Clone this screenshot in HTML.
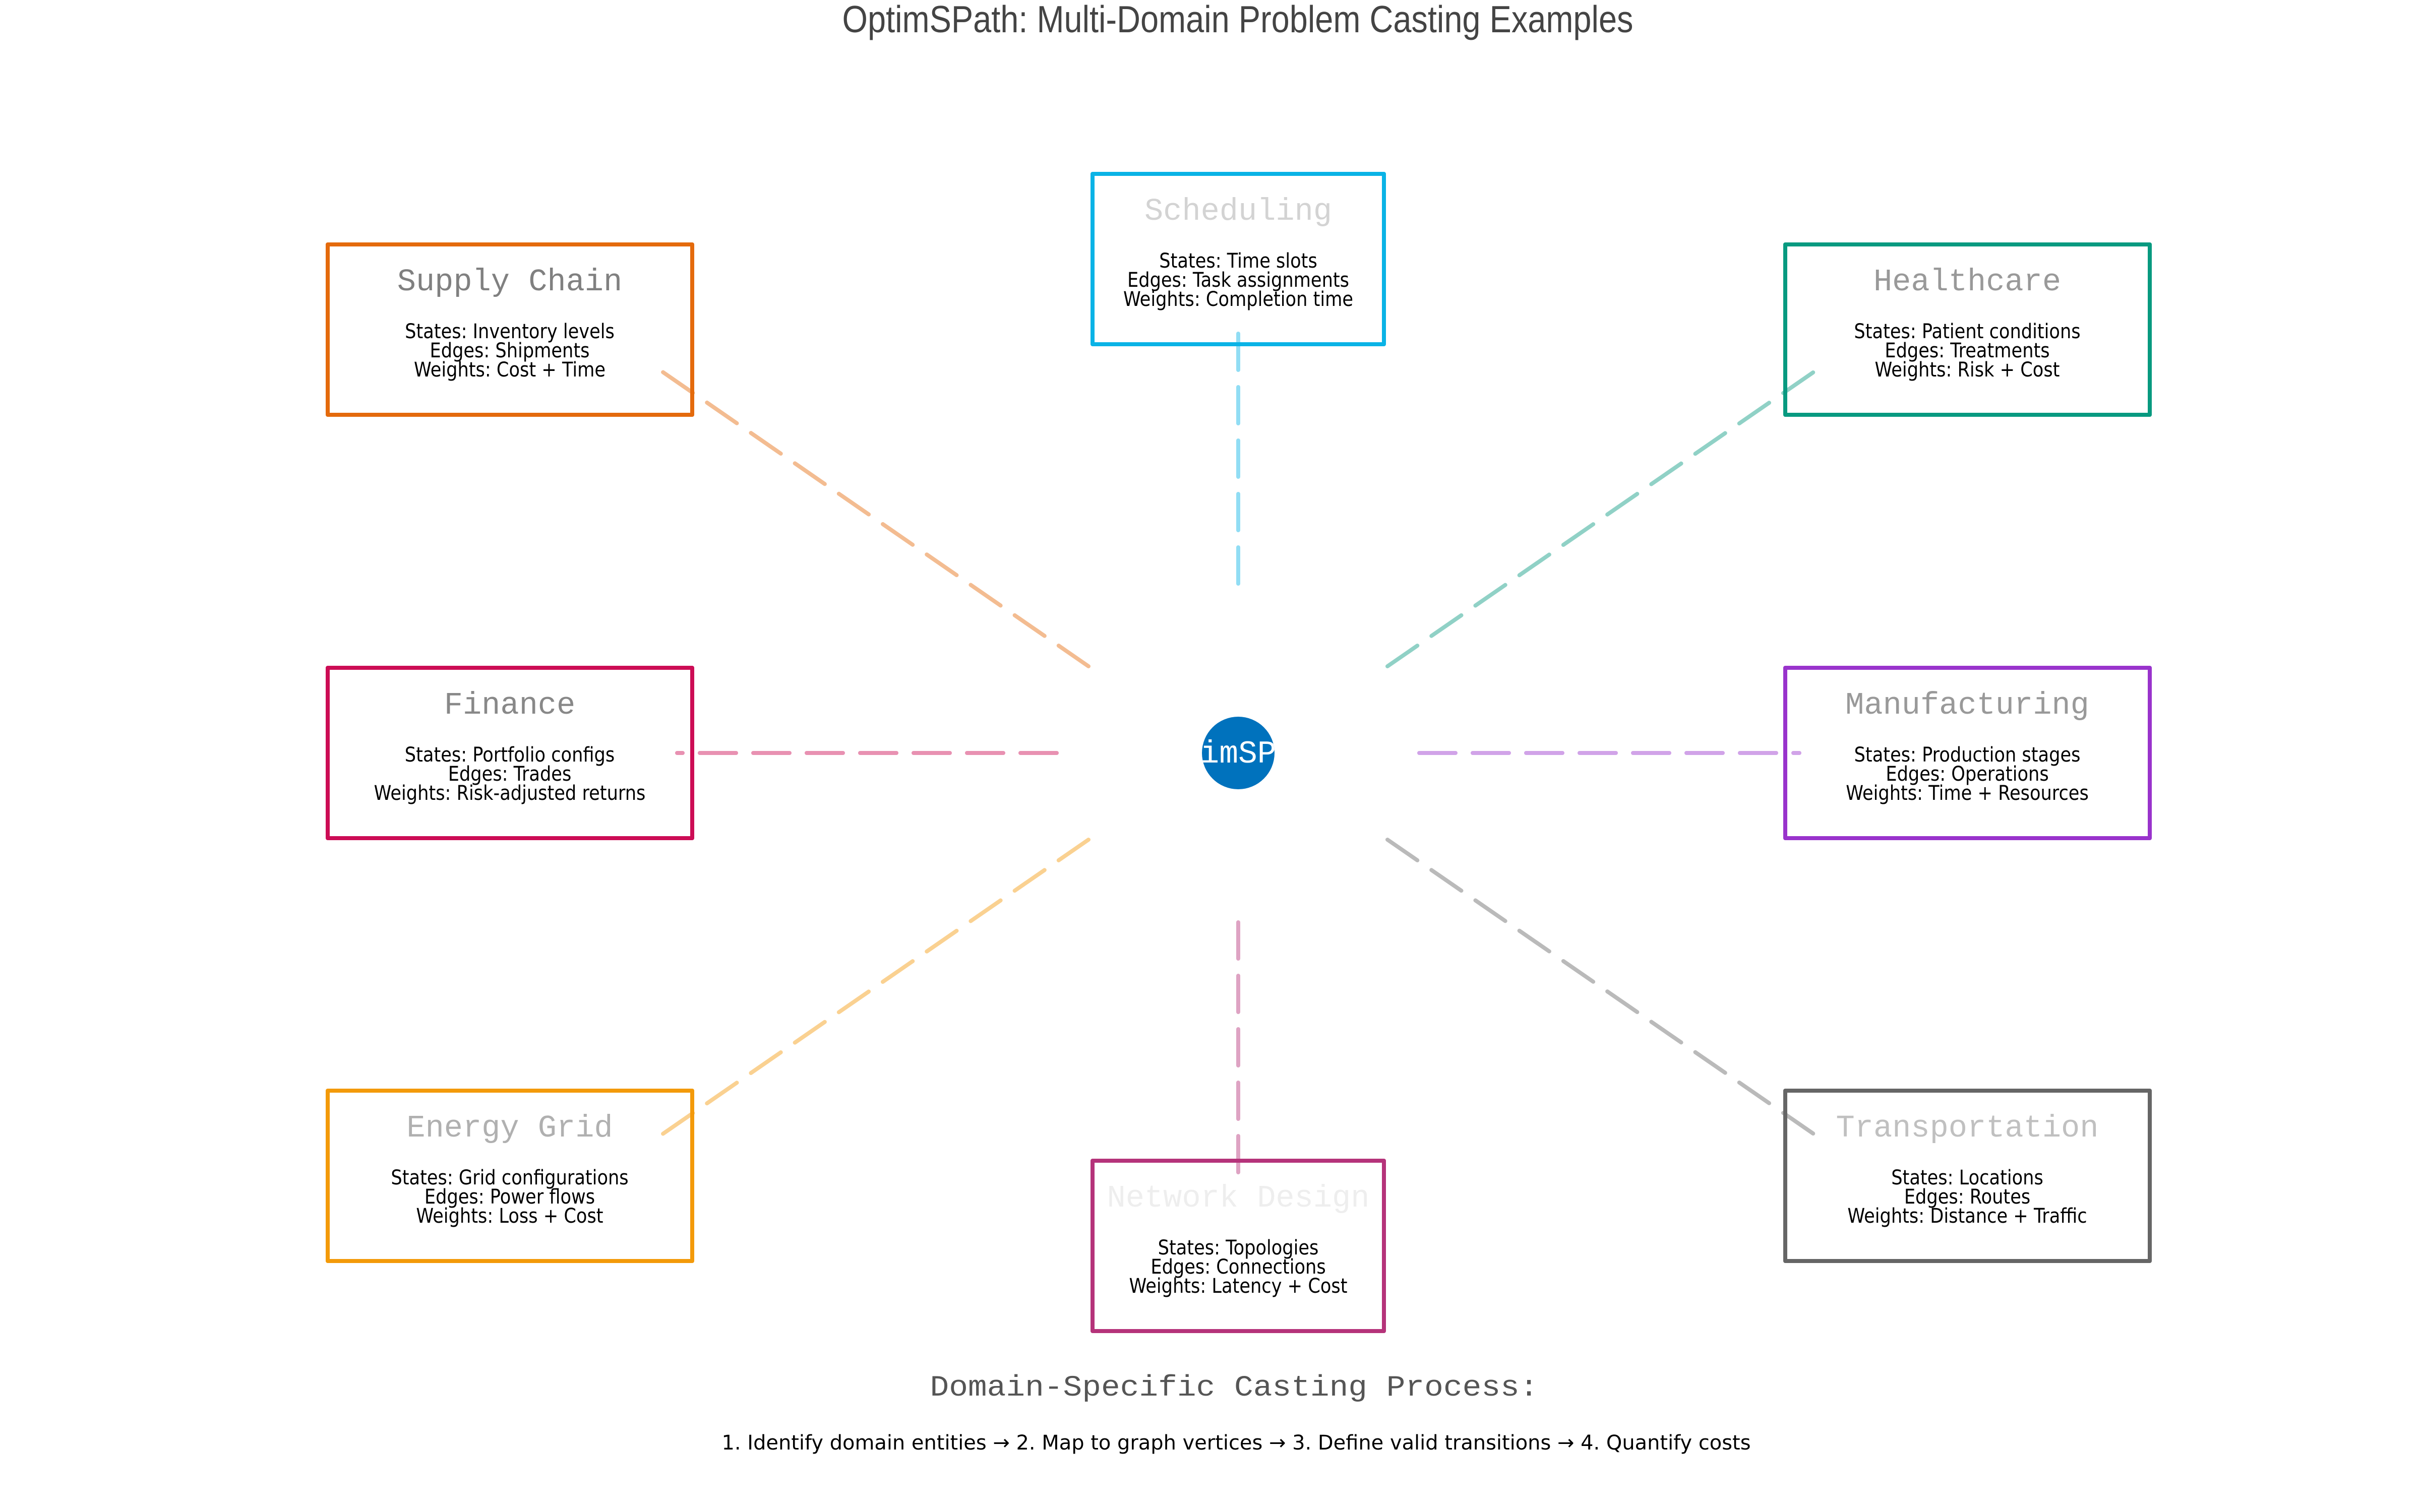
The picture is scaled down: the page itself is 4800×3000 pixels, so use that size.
<!DOCTYPE html>
<html><head><meta charset="utf-8"><style>html,body{margin:0;padding:0;background:#fff}svg{display:block}</style></head>
<body>
<svg width="4800" height="3000" viewBox="0 0 4800 3000" xmlns="http://www.w3.org/2000/svg">
<rect width="4800" height="3000" fill="#fff"/>
<text x="2455" y="64" font-family="Liberation Sans, sans-serif" font-size="75" fill="#444" text-anchor="middle" textLength="1569" lengthAdjust="spacingAndGlyphs">OptimSPath: Multi-Domain Problem Casting Examples</text>

<g fill="none" stroke-width="8" stroke-linejoin="round">
<rect x="650" y="485" width="723" height="338" stroke="#e46a0c"/>
<rect x="650" y="1325" width="723" height="338" stroke="#cc0c55"/>
<rect x="650" y="2164" width="723" height="338" stroke="#f39a0a"/>
<rect x="2167" y="345" width="578" height="338" stroke="#0ab3e6"/>
<rect x="2167" y="2303" width="578" height="338" stroke="#b5337a"/>
<rect x="3541" y="485" width="723" height="338" stroke="#089a80"/>
<rect x="3541" y="1325" width="723" height="338" stroke="#9933cc"/>
<rect x="3541" y="2164" width="723" height="338" stroke="#666"/>
</g>

<g fill="none" stroke-width="8" stroke-linecap="round" stroke-dasharray="72 34" opacity="0.45">
<line x1="2159" y1="1322" x2="1297" y2="726" stroke="#e46a0c"/>
<line x1="2096" y1="1494" x2="1343" y2="1494" stroke="#cc0c55"/>
<line x1="2159" y1="1666" x2="1297" y2="2262" stroke="#f39a0a"/>
<line x1="2456" y1="1158" x2="2456" y2="654" stroke="#0ab3e6"/>
<line x1="2456" y1="1830" x2="2456" y2="2336" stroke="#b5337a"/>
<line x1="2752" y1="1322" x2="3615" y2="726" stroke="#089a80"/>
<line x1="2815" y1="1494" x2="3569" y2="1494" stroke="#9933cc"/>
<line x1="2752" y1="1666" x2="3615" y2="2262" stroke="#666"/>
</g>

<g font-family="Liberation Mono, monospace" font-size="62" text-anchor="middle">
<text x="1011" y="576" fill="#808080">Supply Chain</text>
<text x="1011" y="1416" fill="#888">Finance</text>
<text x="1011" y="2255" fill="#b0b0b0">Energy Grid</text>
<text x="2456" y="436" fill="#d3d3d3">Scheduling</text>
<text x="2456" y="2394" fill="#eeeeee">Network Design</text>
<text x="3902" y="576" fill="#999">Healthcare</text>
<text x="3902" y="1416" fill="#999">Manufacturing</text>
<text x="3902" y="2255" fill="#c0c0c0">Transportation</text>
</g>

<g font-family="DejaVu Sans, sans-serif" font-size="40" fill="#000" text-anchor="middle">
<g transform="translate(1011,0) scale(0.88,1)"><text y="671">States: Inventory levels</text><text y="709">Edges: Shipments</text><text y="747">Weights: Cost + Time</text></g>
<g transform="translate(1011,0) scale(0.88,1)"><text y="1511">States: Portfolio configs</text><text y="1549">Edges: Trades</text><text y="1587">Weights: Risk-adjusted returns</text></g>
<g transform="translate(1011,0) scale(0.88,1)"><text y="2350">States: Grid configurations</text><text y="2388">Edges: Power flows</text><text y="2426">Weights: Loss + Cost</text></g>
<g transform="translate(2456,0) scale(0.88,1)"><text y="531">States: Time slots</text><text y="569">Edges: Task assignments</text><text y="607">Weights: Completion time</text></g>
<g transform="translate(2456,0) scale(0.88,1)"><text y="2489">States: Topologies</text><text y="2527">Edges: Connections</text><text y="2565">Weights: Latency + Cost</text></g>
<g transform="translate(3902,0) scale(0.88,1)"><text y="671">States: Patient conditions</text><text y="709">Edges: Treatments</text><text y="747">Weights: Risk + Cost</text></g>
<g transform="translate(3902,0) scale(0.88,1)"><text y="1511">States: Production stages</text><text y="1549">Edges: Operations</text><text y="1587">Weights: Time + Resources</text></g>
<g transform="translate(3902,0) scale(0.88,1)"><text y="2350">States: Locations</text><text y="2388">Edges: Routes</text><text y="2426">Weights: Distance + Traffic</text></g>
</g>

<defs><clipPath id="cc"><circle cx="2456" cy="1494" r="72"/></clipPath></defs>
<circle cx="2456" cy="1494" r="72" fill="#0072bd"/>
<text x="2456" y="1513" font-family="Liberation Mono, monospace" font-size="63" fill="#fff" text-anchor="middle" clip-path="url(#cc)">OptimSPath</text>

<text x="2448" y="2769" font-family="Liberation Mono, monospace" font-size="58" fill="#555" text-anchor="middle" textLength="1207" lengthAdjust="spacingAndGlyphs">Domain-Specific Casting Process:</text>
<text x="2452" y="2876" font-family="DejaVu Sans, sans-serif" font-size="40" fill="#000" text-anchor="middle" textLength="2041" lengthAdjust="spacingAndGlyphs">1. Identify domain entities → 2. Map to graph vertices → 3. Define valid transitions → 4. Quantify costs</text>
</svg>
</body></html>
